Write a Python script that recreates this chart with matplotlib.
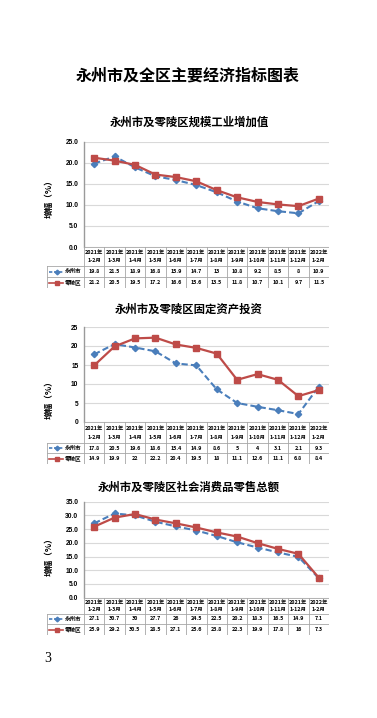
import matplotlib
matplotlib.use("Agg")
import matplotlib.pyplot as plt
from matplotlib.lines import Line2D

plt.rcParams['font.family'] = ['Noto Sans CJK SC', 'DejaVu Sans']

W, H = 377, 718

main_title = "永州市及全区主要经济指标图表"
periods = ["1-2月", "1-3月", "1-4月", "1-5月", "1-6月", "1-7月", "1-8月",
           "1-9月", "1-10月", "1-11月", "1-12月", "1-2月"]
years = ["2021年"] * 11 + ["2022年"]
series_names = ["永州市", "零陵区"]

c1_title = "永州市及零陵区规模工业增加值"
c1_yzs = [19.8, 21.5, 18.9, 16.8, 15.9, 14.7, 13, 10.8, 9.2, 8.5, 8, 10.9]
c1_lld = [21.2, 20.5, 19.5, 17.2, 16.6, 15.6, 13.5, 11.8, 10.7, 10.1, 9.7, 11.5]
c1_ticks = [0, 5, 10, 15, 20, 25]

c2_title = "永州市及零陵区固定资产投资"
c2_yzs = [17.8, 20.5, 19.6, 18.6, 15.4, 14.9, 8.6, 5, 4, 3.1, 2.1, 9.3]
c2_lld = [14.9, 19.9, 22, 22.2, 20.4, 19.5, 18, 11.1, 12.6, 11.1, 6.8, 8.4]
c2_ticks = [0, 5, 10, 15, 20, 25]

c3_title = "永州市及零陵区社会消费品零售总额"
c3_yzs = [27.1, 30.7, 30, 27.7, 26, 24.5, 22.5, 20.2, 18.3, 16.5, 14.9, 7.1]
c3_lld = [25.9, 29.2, 30.5, 28.5, 27.1, 25.6, 23.8, 22.3, 19.9, 17.8, 16, 7.3]
c3_ticks = [0, 5, 10, 15, 20, 25, 30, 35]

ylabel = "增幅（%）"
page_no = "3"

BLUE = "#4A7EBB"
RED = "#BE4B48"
GRID = "#D9D9D9"
BORDER = "#A6A6A6"

fig = plt.figure(figsize=(W / 100, H / 100), dpi=100)
fig.patch.set_facecolor("white")


def rect(x0, y0, x1, y1):
    return [x0 / W, 1 - y1 / H, (x1 - x0) / W, (y1 - y0) / H]


def fmt_val(v):
    return ("%g" % v)


def chart(title, title_y, yzs, lld, ticks, tick_fmt, top, bot, hdr, r1, r2, ylab_y):
    X0, X1, LX = 84, 329, 47
    fig.text(189 / W, 1 - title_y / H, title, ha="center", va="center",
             fontsize=8.2, fontweight="bold")
    ax = fig.add_axes(rect(X0, top, X1, bot))
    x = list(range(len(yzs)))
    ax.plot(x, yzs, color=BLUE, lw=1.5, ls=(0, (3, 1.5)), marker="D", ms=3.2,
            mfc=BLUE, mec=BLUE, zorder=3)
    ax.plot(x, lld, color=RED, lw=1.6, marker="s", ms=4.2, mfc=RED, mec=RED, zorder=4)
    ax.set_xlim(-0.5, len(yzs) - 0.5)
    ax.set_ylim(ticks[0], ticks[-1])
    ax.set_yticks(ticks)
    ax.set_yticklabels([tick_fmt % t for t in ticks], fontsize=4.8,
                       fontfamily=["Liberation Sans", "DejaVu Sans"], fontweight="bold")
    ax.tick_params(axis="y", length=0, pad=4)
    ax.set_xticks([])
    ax.grid(axis="y", color=GRID, lw=0.8)
    ax.set_axisbelow(True)
    for s in ("top", "right", "bottom"):
        ax.spines[s].set_visible(False)
    ax.spines["left"].set_color("#9A9A9A")
    ax.spines["left"].set_linewidth(1.0)
    fig.text(49 / W, 1 - ylab_y / H, ylabel, rotation=90, ha="center", va="center",
             fontsize=6.2, fontweight="bold")

    # data table
    tab = fig.add_axes(rect(LX, bot, X1, r2))
    tab.set_xlim(LX, X1)
    tab.set_ylim(r2, bot)
    tab.axis("off")
    n = len(yzs)
    cw = (X1 - X0) / n
    lk = dict(color=BORDER, lw=0.6)
    tab.plot([X0, X1], [bot, bot], **lk)
    for yy in (hdr, r1, r2):
        tab.plot([LX, X1], [yy, yy], **lk)
    for i in range(n + 1):
        tab.plot([X0 + i * cw] * 2, [bot, r2], **lk)
    tab.plot([LX, LX], [hdr, r2], **lk)
    tf = dict(ha="center", va="center", fontsize=3.9, fontweight="bold")
    for i in range(n):
        cx = X0 + (i + 0.5) * cw
        tab.text(cx, bot + (hdr - bot) * 0.3, years[i], **tf)
        tab.text(cx, bot + (hdr - bot) * 0.73, periods[i], **tf)
        tab.text(cx, (hdr + r1) / 2, fmt_val(yzs[i]), **tf)
        tab.text(cx, (r1 + r2) / 2, fmt_val(lld[i]), **tf)
    # legend keys
    for (yy0, yy1), name, col, ls, mk, ms in (((hdr, r1), series_names[0], BLUE, (0, (2, 1)), "D", 2.4),
                                              ((r1, r2), series_names[1], RED, "-", "s", 3.0)):
        cy = (yy0 + yy1) / 2
        tab.add_line(Line2D([LX + 2, LX + 16], [cy, cy], color=col, lw=1.2, ls=ls))
        tab.add_line(Line2D([LX + 10], [cy], color=col, marker=mk, ms=ms, mfc=col, mec=col))
        tab.text(LX + 26, cy, name, ha="center", va="center", fontsize=4.0, fontweight="bold")


fig.text(188 / W, 1 - 76 / H, main_title, ha="center", va="center",
         fontsize=11.5, fontweight="bold")

chart(c1_title, 122, c1_yzs, c1_lld, c1_ticks, "%.1f", 141.7, 247, 266, 277, 288, 197)
chart(c2_title, 309, c2_yzs, c2_lld, c2_ticks, "%d", 327, 422, 443, 453, 464, 398)
chart(c3_title, 487, c3_yzs, c3_lld, c3_ticks, "%.1f", 501.7, 597.7, 614, 624, 635, 555)

fig.text(48 / W, 1 - 658 / H, page_no, ha="center", va="center", fontsize=10,
         fontfamily=["Liberation Serif", "DejaVu Serif"])

fig.savefig("out.png", dpi=100, facecolor="white")
